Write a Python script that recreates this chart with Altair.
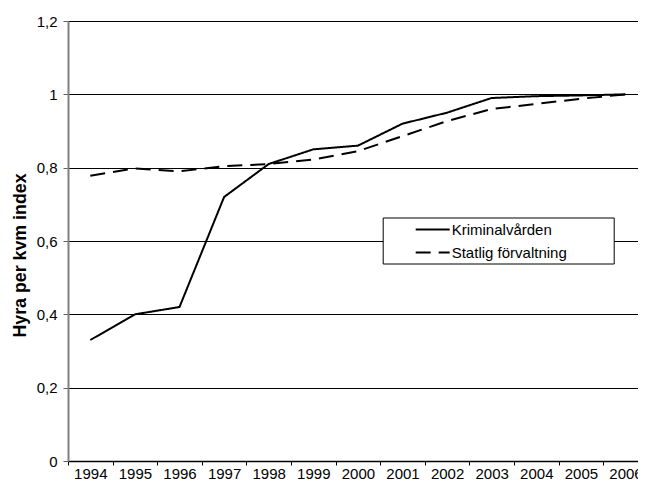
import altair as alt
import pandas as pd

years = list(range(1994, 2007))
kriminalvarden = [0.33, 0.40, 0.42, 0.72, 0.81, 0.85, 0.86, 0.92, 0.95, 0.99, 0.995, 0.997, 1.0]
statlig = [0.778, 0.798, 0.79, 0.804, 0.81, 0.822, 0.845, 0.886, 0.927, 0.96, 0.974, 0.988, 1.0]
series_names = ["Kriminalvården", "Statlig förvaltning"]
y_ticks = [0, 0.2, 0.4, 0.6, 0.8, 1.0, 1.2]
y_title = "Hyra per kvm index"

df = pd.DataFrame({
    "year": years * 2,
    "value": kriminalvarden + statlig,
    "series": [series_names[0]] * len(years) + [series_names[1]] * len(years),
})

W, H = 570, 440
step = 44.6
x_domain = [years[0] - 0.5, years[0] - 0.5 + W / step]
x_tick_positions = [y - 0.5 for y in years]

FONT = "Liberation Sans"

chart = alt.Chart(df).mark_line(color="black", strokeWidth=2).encode(
    x=alt.X(
        "year:Q",
        scale=alt.Scale(domain=x_domain, nice=False, zero=False),
        axis=alt.Axis(
            values=x_tick_positions,
            labelExpr="format(datum.value + 0.5, 'd')",
            labelOffset=step / 2,
            title=None,
            grid=False,
            domainColor="black",
            domainWidth=1.5,
            tickColor="black",
            tickSize=4,
            labelPadding=1,
            labelFontSize=15,
            labelFont=FONT,
            labelColor="black",
            labelFlush=False,
            labelOverlap=False,
            labelBound=False,
        ),
    ),
    y=alt.Y(
        "value:Q",
        scale=alt.Scale(domain=[0, 1.2], nice=False),
        axis=alt.Axis(
            values=y_ticks,
            labelExpr="replace(format(datum.value, '.1~f'), '.', ',')",
            title=y_title,
            titleX=-48,
            titleY=234,
            titleAngle=270,
            titleAlign="center",
            titleBaseline="middle",
            titleFont=FONT,
            titleFontSize=17.8,
            titleFontWeight="bold",
            titleColor="black",
            grid=True,
            gridColor="black",
            gridWidth=1,
            domainColor="#808080",
            domainWidth=2,
            tickColor="#606060",
            tickSize=5,
            labelPadding=6,
            labelFontSize=15,
            labelFont=FONT,
            labelColor="black",
            labelFlush=False,
            labelOverlap=False,
        ),
    ),
    strokeDash=alt.StrokeDash(
        "series:N",
        scale=alt.Scale(domain=series_names, range=[[1, 0], [15, 8]]),
        legend=alt.Legend(
            title=None,
            orient="none",
            legendX=314.7,
            legendY=196.5,
            direction="vertical",
            strokeColor="black",
            fillColor="white",
            padding=2.5,
            rowPadding=5,
            symbolType="M-2,0H2",
            symbolSize=289,
            symbolStrokeWidth=2,
            symbolStrokeColor="black",
            symbolOffset=38,
            labelOffset=9.5,
            labelFontSize=15,
            labelFont=FONT,
            labelColor="black",
            labelLimit=400,
            labelExpr="datum.label + '\u2800\u2800\u2800\u2800'",
        ),
    ),
).properties(
    width=W,
    height=H,
    autosize=alt.AutoSizeParams(type="none"),
    padding={"left": 60, "top": 13, "right": 0, "bottom": 23},
).configure_view(stroke=None)

chart.save("out.html", embed_options={"renderer": "svg", "actions": False})
